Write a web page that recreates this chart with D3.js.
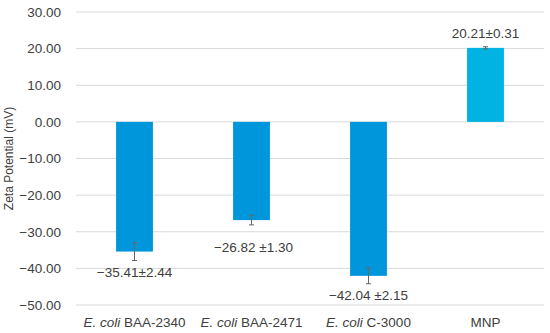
<!DOCTYPE html>
<html>
<head>
<meta charset="utf-8">
<script src="https://d3js.org/d3.v7.min.js"></script>
<style>
  body { margin: 0; background: #fff; }
  text { font-family: "Liberation Sans", Arial, sans-serif; fill: #404040; }
</style>
</head>
<body>
<div id="main"></div>
<script>
// chart data
const strains = ["BAA-2340", "BAA-2471", "C-3000", "MNP"]
const italicPrefix = ["E. coli", "E. coli", "E. coli", ""]
const zetaMean = [-35.41, -26.82, -42.04, 20.21]
const zetaErr = [2.44, 1.30, 2.15, 0.31]
const valueLabels = ["\u221235.41\u00b12.44", "\u221226.82 \u00b11.30", "\u221242.04 \u00b12.15", "20.21\u00b10.31"]
const barColors = ["#0096db", "#0096db", "#0096db", "#00b3e3"]
const yTicks = [30, 20, 10, 0, -10, -20, -30, -40, -50]

const ctx = {
    w: 550,
    h: 333,
    left: 76,
    right: 544,
    top: 12,
    bottom: 305
}

function createViz() {
    let svg = d3.select('#main').append('svg')
        .attr('width', ctx.w)
        .attr('height', ctx.h)

    let x = d3.scaleBand()
        .domain(strains)
        .range([ctx.left, ctx.right])
        .paddingInner(0.685)
        .paddingOuter(0.3425)

    let y = d3.scaleLinear()
        .domain([-50, 30])
        .range([ctx.bottom, ctx.top])

    // gridlines
    svg.append('g')
        .selectAll('line')
        .data(yTicks)
        .join('line')
        .attr('x1', ctx.left)
        .attr('x2', ctx.right)
        .attr('y1', d => y(d))
        .attr('y2', d => y(d))
        .attr('stroke', '#d9d9d9')
        .attr('stroke-width', 1)

    // y axis labels
    let yAxis = svg.append('g')
        .attr('transform', `translate(${ctx.left - 15},0)`)
        .call(d3.axisLeft(y).tickValues(yTicks).tickSize(0).tickPadding(0)
            .tickFormat(d => d3.format('.2f')(d).replace('-', '\u2212')))
    yAxis.select('.domain').remove()
    yAxis.selectAll('text')
        .attr('font-size', 13.5)
        .attr('fill', '#595959')
        .style('font-family', '"Liberation Sans", Arial, sans-serif')

    // y axis title
    svg.append('text')
        .attr('transform', `translate(13,${(ctx.top + ctx.bottom) / 2}) rotate(-90)`)
        .attr('text-anchor', 'middle')
        .attr('font-size', 12)
        .attr('fill', '#595959')
        .text('Zeta Potential (mV)')

    // bars
    let idx = d3.range(strains.length)
    svg.append('g')
        .selectAll('rect')
        .data(idx)
        .join('rect')
        .attr('x', i => x(strains[i]))
        .attr('width', x.bandwidth())
        .attr('y', i => y(Math.max(0, zetaMean[i])))
        .attr('height', i => Math.abs(y(zetaMean[i]) - y(0)))
        .attr('fill', i => barColors[i])

    // error bars
    let eb = svg.append('g').attr('stroke', '#666').attr('stroke-width', 1)
    idx.forEach(i => {
        let cx = x(strains[i]) + x.bandwidth() / 2
        let y1 = y(zetaMean[i] + zetaErr[i])
        let y2 = y(zetaMean[i] - zetaErr[i])
        eb.append('line').attr('x1', cx).attr('x2', cx).attr('y1', y1).attr('y2', y2)
        eb.append('line').attr('x1', cx - 2.5).attr('x2', cx + 2.5).attr('y1', y1).attr('y2', y1)
        eb.append('line').attr('x1', cx - 2.5).attr('x2', cx + 2.5).attr('y1', y2).attr('y2', y2)
    })

    // value labels
    let labelShift = [0, 11, 0, 0]
    svg.append('g')
        .selectAll('text')
        .data(idx)
        .join('text')
        .attr('x', i => x(strains[i]) + x.bandwidth() / 2 + (i == 1 ? 2 : 0))
        .attr('y', i => zetaMean[i] < 0
            ? y(zetaMean[i] - zetaErr[i]) + 16 + labelShift[i]
            : y(zetaMean[i] + zetaErr[i]) - 9)
        .attr('text-anchor', 'middle')
        .attr('font-size', 13.5)
        .attr('fill', '#262626')
        .text(i => valueLabels[i])

    // category labels
    let cat = svg.append('g')
        .selectAll('text')
        .data(idx)
        .join('text')
        .attr('x', i => x(strains[i]) + x.bandwidth() / 2)
        .attr('y', 327)
        .attr('text-anchor', 'middle')
        .attr('font-size', 13.5)
        .attr('fill', '#000')
    cat.append('tspan')
        .attr('font-style', 'italic')
        .text(i => italicPrefix[i] ? italicPrefix[i] + ' ' : '')
    cat.append('tspan')
        .text(i => strains[i])
}

createViz()
</script>
</body>
</html>
